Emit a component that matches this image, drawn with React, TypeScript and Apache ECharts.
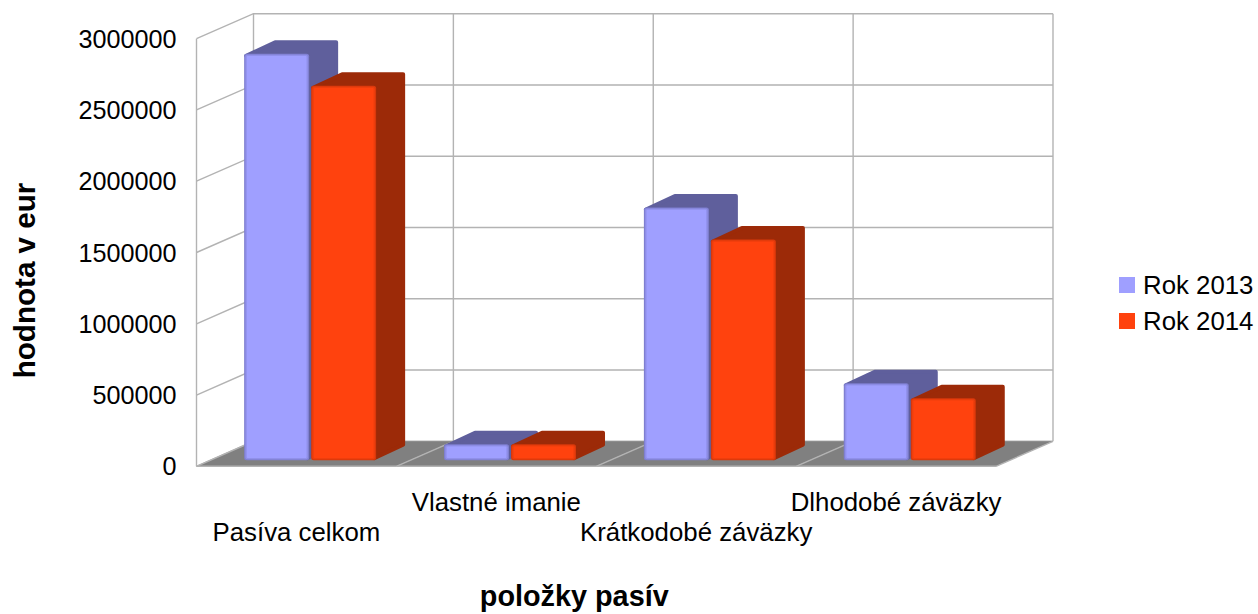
import React, { useEffect, useRef } from "react";
import * as echarts from "echarts";

const categories = ["Pasíva celkom", "Vlastné imanie", "Krátkodobé záväzky", "Dlhodobé záväzky"];
const rok2013 = [2852000, 112000, 1773000, 540000];
const rok2014 = [2628000, 112000, 1549000, 435000];
const yTicks = [0, 500000, 1000000, 1500000, 2000000, 2500000, 3000000];

const FONT = '"Liberation Sans", Arial, sans-serif';
const WALL_DX = 57;
const WALL_DY = 25;
const BAR_OFF_X = 13.7;
const BAR_OFF_Y = -6;
const BAR_DX = 29;
const BAR_DY = 13.5;
const BAR_W = 65;
const BAR_GAP = 2;
const GRID_LINE = "#b3b3b3";

const wallItem = (_p: any, api: any) => {
  const c = api.coord([0, api.value(1)]);
  const band = api.size([1, 0])[0];
  const left = c[0] - band / 2;
  const right = left + band * categories.length;
  return {
    type: "polyline",
    shape: { points: [[left, c[1]], [left + WALL_DX, c[1] - WALL_DY], [right + WALL_DX, c[1] - WALL_DY]] },
    style: { stroke: GRID_LINE, lineWidth: 1.4, fill: null },
  };
};

const floorItem = (p: any, api: any) => {
  const idx = p.dataIndex;
  const base = api.coord([idx, 0]);
  const top = api.coord([idx, yTicks[yTicks.length - 1]]);
  const band = api.size([1, 0])[0];
  const left = base[0] - band / 2;
  const right = left + band;
  const lineStyle = { stroke: GRID_LINE, lineWidth: 1.4, fill: null };
  const children: any[] = [
    {
      type: "polygon",
      shape: { points: [[left, base[1]], [right, base[1]], [right + WALL_DX, base[1] - WALL_DY], [left + WALL_DX, base[1] - WALL_DY]] },
      style: { fill: "#808080" },
    },
    { type: "line", shape: { x1: left, y1: base[1], x2: right, y2: base[1] }, style: lineStyle },
    { type: "line", shape: { x1: left, y1: base[1], x2: left + WALL_DX, y2: base[1] - WALL_DY }, style: lineStyle },
    { type: "line", shape: { x1: left + WALL_DX, y1: base[1] - WALL_DY, x2: left + WALL_DX, y2: top[1] - WALL_DY }, style: lineStyle },
  ];
  if (idx === 0) {
    children.push({ type: "line", shape: { x1: left, y1: base[1], x2: left, y2: top[1] }, style: lineStyle });
  }
  if (idx === categories.length - 1) {
    children.push({ type: "line", shape: { x1: right, y1: base[1], x2: right + WALL_DX, y2: base[1] - WALL_DY }, style: lineStyle });
    children.push({ type: "line", shape: { x1: right + WALL_DX, y1: base[1] - WALL_DY, x2: right + WALL_DX, y2: top[1] - WALL_DY }, style: lineStyle });
  }
  return { type: "group", children };
};

const barItem = (side: number, face: string, mid: string, edge: string, dark: string) => (_p: any, api: any) => {
  const cat = api.value(0);
  const base = api.coord([cat, 0]);
  const top = api.coord([cat, api.value(1)]);
  const x0 = base[0] + BAR_OFF_X + (side < 0 ? -BAR_W - BAR_GAP / 2 : BAR_GAP / 2);
  const x1 = x0 + BAR_W;
  const yT = top[1] + BAR_OFF_Y;
  const yB = base[1] + BAR_OFF_Y;
  const darkStyle = { fill: dark, stroke: dark, lineWidth: 4, lineJoin: "round" };
  return {
    type: "group",
    children: [
      {
        type: "polygon",
        shape: { points: [[x1 - 2, yB - 2], [x1 + BAR_DX - 2, yB - BAR_DY - 2], [x1 + BAR_DX - 2, yT - BAR_DY + 2], [x0 + BAR_DX + 2, yT - BAR_DY + 2], [x0 + 2, yT + 2], [x1 - 2, yT + 2]] },
        style: darkStyle,
      },
      { type: "rect", shape: { x: x0, y: yT, width: BAR_W, height: yB - yT, r: 2.5 }, style: { fill: edge } },
      { type: "rect", shape: { x: x0 + 1.2, y: yT + 1, width: BAR_W - 2.4, height: yB - yT - 2, r: 2 }, style: { fill: mid } },
      { type: "rect", shape: { x: x0 + 2.6, y: yT + 2.2, width: BAR_W - 5.2, height: yB - yT - 4.4, r: 1 }, style: { fill: face } },
    ],
  };
};

export default function App() {
  const ref = useRef<HTMLDivElement>(null);
  useEffect(() => {
    document.body.style.margin = "0";
    const chart = echarts.init(ref.current!, undefined, { renderer: "svg" });
    chart.setOption({
      animation: false,
      backgroundColor: "#ffffff",
      textStyle: { fontFamily: FONT, color: "#000" },
      grid: { left: 196.5, top: 38.7, width: 799.5, height: 427.6, containLabel: false, outerBoundsMode: "none" },
      legend: {
        orient: "vertical",
        left: 1119,
        top: 272,
        padding: 0,
        itemWidth: 16,
        itemHeight: 16,
        itemGap: 10,
        icon: "rect",
        data: ["Rok 2013", "Rok 2014"],
        textStyle: { fontFamily: FONT, fontSize: 25.8, color: "#000", padding: [0, 0, 0, 3] },
        selectedMode: false,
      },
      xAxis: {
        type: "category",
        data: categories,
        axisLine: { show: false },
        axisTick: { show: false },
        splitLine: { show: false },
        axisLabel: {
          interval: 0,
          margin: 21,
          fontFamily: FONT,
          fontSize: 25.8,
          lineHeight: 30,
          color: "#000",
          hideOverlap: false,
          formatter: (v: string, i: number) => (i % 2 === 0 ? "\n" + v : v),
        },
        name: "položky pasív",
        nameLocation: "middle",
        nameGap: 115,
        nameTextStyle: { fontFamily: FONT, fontSize: 28.8, fontWeight: "bold", color: "#000", padding: [0, 44, 0, 0] },
      },
      yAxis: {
        type: "value",
        min: 0,
        max: 3000000,
        interval: 500000,
        axisLine: { show: false },
        axisTick: { show: false },
        splitLine: { show: false },
        axisLabel: { margin: 20, fontFamily: FONT, fontSize: 25.2, color: "#000", formatter: (v: number) => String(v) },
        name: "hodnota v eur",
        nameLocation: "middle",
        nameGap: 157,
        nameTextStyle: { fontFamily: FONT, fontSize: 29.6, fontWeight: "bold", color: "#000", padding: [0, 56, 0, 0] },
      },
      series: [
        {
          type: "custom", name: "steny", silent: true, z: 1,
          data: yTicks.map((t) => [0, t]), encode: { x: 0, y: 1 }, renderItem: wallItem,
        },
        {
          type: "custom", name: "podlaha", silent: true, z: 2,
          data: categories.map((_c, i) => [i, 0]), encode: { x: 0, y: 1 }, renderItem: floorItem,
        },
        {
          type: "custom", name: "Rok 2013", silent: true, z: 3, itemStyle: { color: "#9f9fff" },
          data: rok2013.map((v, i) => [i, v]), encode: { x: 0, y: 1 },
          renderItem: barItem(-1, "#9f9fff", "#9090ea", "#7f7fd0", "#5f5f9c"),
        },
        {
          type: "custom", name: "Rok 2014", silent: true, z: 4, itemStyle: { color: "#ff420e" },
          data: rok2014.map((v, i) => [i, v]), encode: { x: 0, y: 1 },
          renderItem: barItem(1, "#ff420e", "#ee3e0d", "#d8380b", "#9c2a08"),
        },
      ],
    });
    return () => chart.dispose();
  }, []);
  return <div ref={ref} style={{ width: 1258, height: 614, position: "fixed", left: 0, top: 0 }} />;
}
